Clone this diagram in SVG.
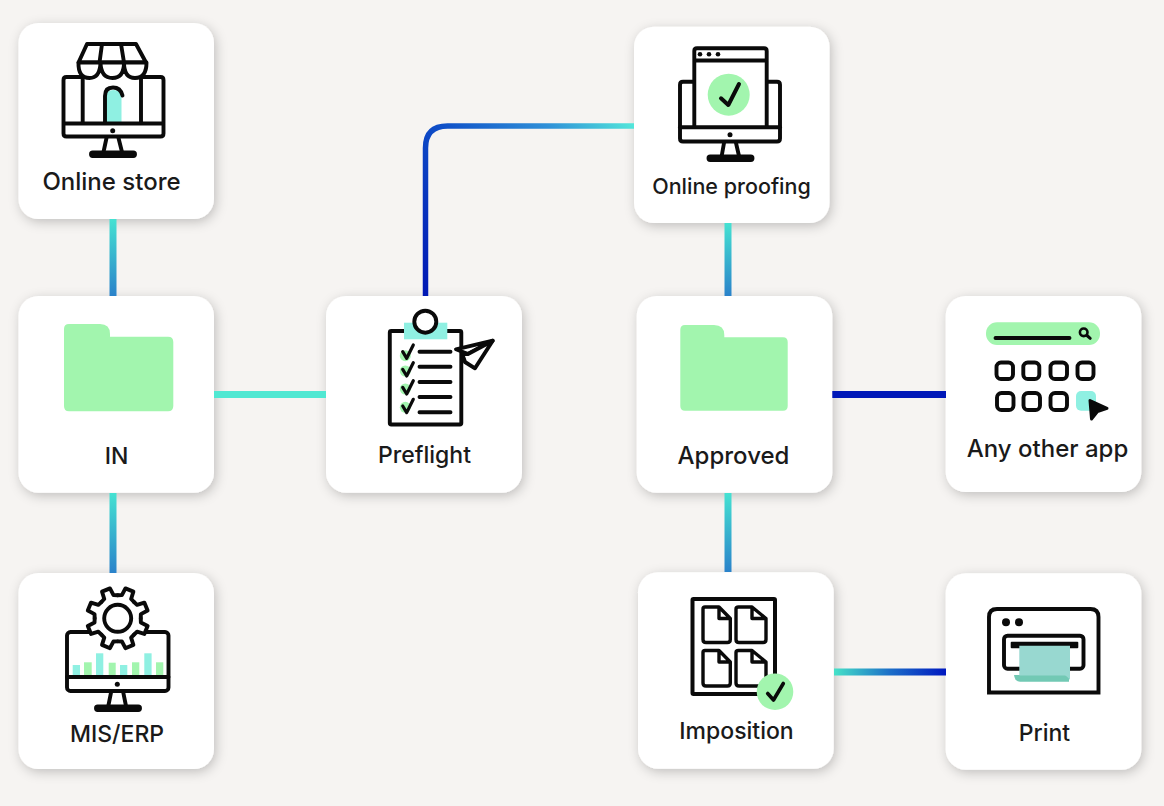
<svg xmlns="http://www.w3.org/2000/svg" xmlns:xlink="http://www.w3.org/1999/xlink" width="1164" height="806" viewBox="0 0 1164 806">
<style>
.card{fill:#fff;filter:url(#sh)}
.ln{fill:none;stroke:#0a0a0a;stroke-width:3.9;stroke-linecap:round;stroke-linejoin:round}
.w{fill:#fff}
.k{fill:#0a0a0a}
.g{fill:#a2f5ae}
.t{fill:#8ff0e2}
.lb{font-family:"Inter","Liberation Sans",sans-serif;font-size:23px;font-weight:500;fill:#1a1a1a;text-anchor:middle}
.c{fill:none;stroke-width:7}
</style>
<defs>
<filter id="sh" x="-15%" y="-15%" width="130%" height="130%"><feDropShadow dx="2" dy="3" stdDeviation="6" flood-color="#000" flood-opacity="0.22"/></filter>
<linearGradient id="v1" gradientUnits="userSpaceOnUse" x1="0" y1="219" x2="0" y2="296"><stop offset="0" stop-color="#45e2d2"/><stop offset="1" stop-color="#2a82ca"/></linearGradient>
<linearGradient id="v2" gradientUnits="userSpaceOnUse" x1="0" y1="493" x2="0" y2="573"><stop offset="0" stop-color="#45e2d2"/><stop offset="1" stop-color="#2a82ca"/></linearGradient>
<linearGradient id="v3" gradientUnits="userSpaceOnUse" x1="0" y1="223" x2="0" y2="296"><stop offset="0" stop-color="#45e2d2"/><stop offset="1" stop-color="#2a82ca"/></linearGradient>
<linearGradient id="v4" gradientUnits="userSpaceOnUse" x1="0" y1="493" x2="0" y2="572"><stop offset="0" stop-color="#45e2d2"/><stop offset="1" stop-color="#2a82ca"/></linearGradient>
<linearGradient id="el" gradientUnits="userSpaceOnUse" x1="425" y1="296" x2="634" y2="126"><stop offset="0" stop-color="#0018b4"/><stop offset="0.45" stop-color="#0f50c8"/><stop offset="0.75" stop-color="#2f90d8"/><stop offset="1" stop-color="#52e6da"/></linearGradient>
<linearGradient id="pr" gradientUnits="userSpaceOnUse" x1="834" y1="0" x2="946" y2="0"><stop offset="0" stop-color="#45e2c8"/><stop offset="0.5" stop-color="#1c6ec8"/><stop offset="1" stop-color="#0018c0"/></linearGradient>
<path id="tooth" d="M-8.800-21.300L-5-23L-4.300-30.600L4.300-30.600L5-23L8.800-21.300" class="ln" style="fill:#fff"/>
<path id="chk" d="M0 0l4 6.600 6.600-13.300" class="ln" style="stroke-width:3.200"/>
</defs>
<rect width="1164" height="806" fill="#f6f4f2"/>

<g id="node-online-store">
<rect class="card" x="18.500" y="23" width="195.500" height="196" rx="20"/>
<path class="t" d="M106 123V96q0-6 7.500-6t8 6v27z"/>
<path class="ln" d="M82.700 77H66.500q-3 0-3 3V133.500q0 3 3 3H160.500q3 0 3-3V80q0-3-3-3H141M63.500 123.500H163.500"/>
<path class="ln" d="M82.700 77V123M141 77V123"/>
<path class="ln" d="M105 123V96q0-8.500 8-8.500 7.500 0 9.500 8"/>
<path class="ln" style="fill:#fff" d="M87 44H136L146 62.500H78.500Z"/>
<path class="ln" d="M102 44L99.500 62.500M121 44L124 62.500"/>
<path class="ln" style="fill:#fff" d="M78.500 62.500Q78 78 89.500 78Q100 78 100.500 62.500Q101 78 112.500 78Q124 78 124 62.500Q124 78 135 78Q146.500 78 146.500 62.500Z"/>
<circle class="k" cx="112.700" cy="130.700" r="2.500"/>
<path class="ln" d="M106.500 138L103.500 152M118.500 138L122 152"/>
<rect class="ln" x="91" y="152.500" width="44" height="3.500" rx="1.700"/>
<text class="lb" style="font-size:24px" x="111.500" y="190">Online store</text>
</g>

<g id="node-in">
<rect class="card" x="18.500" y="296" width="195.500" height="196.700" rx="20"/>
<path class="g" d="M69 324H100Q110 324 110 334V336.700H168Q173.300 336.700 173.300 342V406Q173.300 411.300 168 411.300H69Q64 411.300 64 406V329Q64 324 69 324Z"/>
<text class="lb" x="116.500" y="464">IN</text>
</g>

<g id="node-mis-erp">
<rect class="card" x="18.500" y="573" width="195.500" height="196" rx="20"/>
<g class="t"><rect x="72.700" y="665" width="7.300" height="10"/><rect x="96" y="653.300" width="7.300" height="21.700"/><rect x="120" y="665" width="7.300" height="10"/><rect x="144.300" y="653.300" width="7.300" height="21.700"/></g>
<g class="g"><rect x="84" y="662.300" width="7.700" height="12.700"/><rect x="108.700" y="662.700" width="7" height="12.300"/><rect x="132" y="662.300" width="7.300" height="12.700"/><rect x="156" y="662.300" width="7.300" height="12.700"/></g>
<rect class="ln" x="67" y="632" width="101.500" height="59" rx="3.500"/>
<path class="ln" d="M67 677H168.500"/>
<circle class="k" cx="117.300" cy="684.300" r="2.500"/>
<path class="ln" d="M111 692.700L108.300 706M123.300 692.700L126 706"/>
<rect class="ln" x="96" y="706.500" width="44" height="3.500" rx="1.700"/>
<circle cx="117.700" cy="618.300" r="23" class="w"/>
<g>
<use href="#tooth" transform="translate(117.700 618.300) rotate(22.500)"/>
<use href="#tooth" transform="translate(117.700 618.300) rotate(67.500)"/>
<use href="#tooth" transform="translate(117.700 618.300) rotate(112.500)"/>
<use href="#tooth" transform="translate(117.700 618.300) rotate(157.500)"/>
<use href="#tooth" transform="translate(117.700 618.300) rotate(202.500)"/>
<use href="#tooth" transform="translate(117.700 618.300) rotate(247.500)"/>
<use href="#tooth" transform="translate(117.700 618.300) rotate(292.500)"/>
<use href="#tooth" transform="translate(117.700 618.300) rotate(337.500)"/>
</g>
<circle class="ln" cx="117.700" cy="618.300" r="13.500"/>
<text class="lb" x="117" y="742">MIS/ERP</text>
</g>

<g id="node-preflight">
<rect class="card" x="326" y="296" width="196" height="196.700" rx="20"/>
<rect class="ln" x="389.800" y="331" width="71.500" height="93.500" rx="1.500" style="fill:#fff"/>
<rect class="t" x="404" y="322.700" width="43.300" height="16.600"/>
<circle class="ln" style="fill:#fff" cx="425.300" cy="321.700" r="11"/>
<path class="ln" d="M419.500 351.700H450.500M419.500 366.700H450.500M419.500 382H450.500M419.500 397H450.500M419.500 412.300H450.500"/>
<g class="g"><circle cx="405.300" cy="355.700" r="5.500"/><circle cx="405.300" cy="371" r="5.500"/><circle cx="405.300" cy="389" r="5.500"/><circle cx="405.300" cy="407.300" r="5.500"/></g>
<use href="#chk" x="402.700" y="351.700"/><use href="#chk" x="402.700" y="369.400"/><use href="#chk" x="402.700" y="387.400"/><use href="#chk" x="402.700" y="406"/>
<path class="ln" style="fill:#fff" d="M492.700 340.700L456 349.300L468 354Z"/>
<path class="ln" style="fill:#fff" d="M492.700 340.700L475 368.300L465 362L462 353.500L468 354Z"/>
<text class="lb" x="424.500" y="463">Preflight</text>
</g>

<g id="node-online-proofing">
<rect class="card" x="634" y="26.700" width="195.500" height="196.300" rx="20"/>
<path class="ln" d="M694 81.700H683q-3 0-3 3V138.500q0 3 3 3H777q3 0 3-3V84.700q0-3-3-3H767"/>
<path class="ln" style="fill:#fff" d="M694.300 127V51Q694.300 48.300 697 48.300H764Q766.700 48.300 766.700 51V127M694.300 60.500H766.700"/>
<path class="ln" d="M680 127.300H780"/>
<g class="k"><circle cx="700" cy="54.300" r="2.300"/><circle cx="709" cy="54.300" r="2.300"/><circle cx="718" cy="54.300" r="2.300"/><circle cx="730" cy="134.700" r="2.500"/></g>
<circle class="g" cx="728.700" cy="94.700" r="21"/>
<path class="ln" style="stroke-width:4" d="M721 98.300L728.300 105L739 84"/>
<path class="ln" d="M724 143L721.700 156M736 143L739 156"/>
<rect class="ln" x="708.500" y="156.500" width="44" height="3.500" rx="1.700"/>
<text class="lb" style="font-size:21.500px" x="731.500" y="194">Online proofing</text>
</g>

<g id="node-approved">
<rect class="card" x="636.700" y="296" width="195.600" height="196.700" rx="20"/>
<path class="g" d="M685 325H714Q724.300 325 724.300 335V337.300H783Q787.700 337.300 787.700 342V406Q787.700 410.700 783 410.700H685Q680.300 410.700 680.300 406V330Q680.300 325 685 325Z"/>
<text class="lb" style="font-size:24px" x="733.500" y="464">Approved</text>
</g>

<g id="node-any-other-app">
<rect class="card" x="945.700" y="296" width="195.600" height="196" rx="20"/>
<rect class="g" x="986" y="322.300" width="114" height="22.700" rx="11"/>
<path class="ln" d="M995.500 338H1069.500"/>
<circle class="ln" style="stroke-width:2.600" cx="1083.700" cy="332.300" r="3.800"/>
<path class="ln" style="stroke-width:3" d="M1087 335.500L1090.200 338.300"/>
<g class="ln"><rect x="996.500" y="362.500" width="16.500" height="16.500" rx="4.500"/><rect x="1023.300" y="362.500" width="16" height="16.500" rx="4.500"/><rect x="1050.500" y="362.500" width="16.500" height="16.500" rx="4.500"/><rect x="1077.500" y="362.500" width="16" height="16.500" rx="4.500"/><rect x="997" y="393" width="16.500" height="17" rx="4.500"/><rect x="1023.500" y="393" width="16.500" height="17" rx="4.500"/><rect x="1050.500" y="393" width="16.500" height="17" rx="4.500"/></g>
<rect class="t" x="1076" y="391" width="20" height="19.700" rx="5"/>
<path class="k" stroke="#0a0a0a" stroke-width="3" stroke-linejoin="round" d="M1090 400.500L1107 408.300L1097.500 411.500L1091.500 419Z"/>
<text class="lb" style="font-size:24px" x="1047.500" y="457">Any other app</text>
</g>

<g id="node-imposition">
<rect class="card" x="638" y="572.300" width="195.700" height="196.400" rx="20"/>
<rect class="ln" x="692.500" y="599" width="82.500" height="95" rx="1" style="stroke-width:4"/>
<path class="ln" style="fill:#fff;stroke-width:3.400" d="M705 607H719L730.300 618.500V639.500Q730.300 642.500 727.300 642.500H706Q703 642.500 703 639.500V609Q703 607 705 607ZM719 607V618.500H730.300"/>
<path class="ln" style="fill:#fff;stroke-width:3.400" d="M738.500 607H752L766 618.500V639.500Q766 642.500 763 642.500H739Q736 642.500 736 639.500V609Q736 607 738.500 607ZM752 607V618.500H766"/>
<path class="ln" style="fill:#fff;stroke-width:3.400" d="M705 650.500H719L730.300 662V683Q730.300 686 727.300 686H706Q703 686 703 683V652.500Q703 650.500 705 650.500ZM719 650.500V662H730.300"/>
<path class="ln" style="fill:#fff;stroke-width:3.400" d="M738.500 650.500H752L766 662V683Q766 686 763 686H739Q736 686 736 683V652.500Q736 650.500 738.500 650.500ZM752 650.500V662H766"/>
<circle class="g" cx="775" cy="691.700" r="18.300"/>
<path class="ln" style="stroke-width:3.600" d="M767.700 693.500L773.500 700L783.300 683.500"/>
<text class="lb" x="736.500" y="739">Imposition</text>
</g>

<g id="node-print">
<rect class="card" x="945.700" y="573.300" width="195.600" height="196.400" rx="20"/>
<path class="ln" style="stroke-linejoin:miter" d="M989 692.500V617Q989 609 997 609H1090.500Q1098.500 609 1098.500 617V692.500Z"/>
<g class="k"><circle cx="1006" cy="622.300" r="4"/><circle cx="1019" cy="622.300" r="4"/></g>
<rect class="ln" x="1004" y="635.700" width="79.500" height="33" rx="3.500"/>
<rect class="k" x="1010.700" y="641.700" width="67.600" height="6.600" rx="1"/>
<path fill="#72c9b4" d="M1014 675H1069V681.700H1020Q1015 681.700 1014 675Z"/>
<path fill="#98d8d0" d="M1019.300 645.700H1070V680Q1067 676 1065 675.500H1019.300Z"/>
<text class="lb" x="1044.500" y="741">Print</text>
</g>

<g id="connectors">
<path class="c" stroke="url(#v1)" d="M113 219V296"/>
<path class="c" stroke="url(#v2)" d="M113 493V573"/>
<path class="c" stroke="#50e8d2" d="M214 394.500H326"/>
<path class="c" stroke="url(#el)" style="stroke-width:5.500" d="M425.500 296V148Q425.500 126 447.500 126H634"/>
<path class="c" stroke="url(#v3)" d="M728 223V296"/>
<path class="c" stroke="url(#v4)" d="M728 493V572"/>
<path class="c" stroke="#0018b8" d="M832.300 394.500H946"/>
<path class="c" stroke="url(#pr)" d="M834 672H946"/>
</g>
</svg>
